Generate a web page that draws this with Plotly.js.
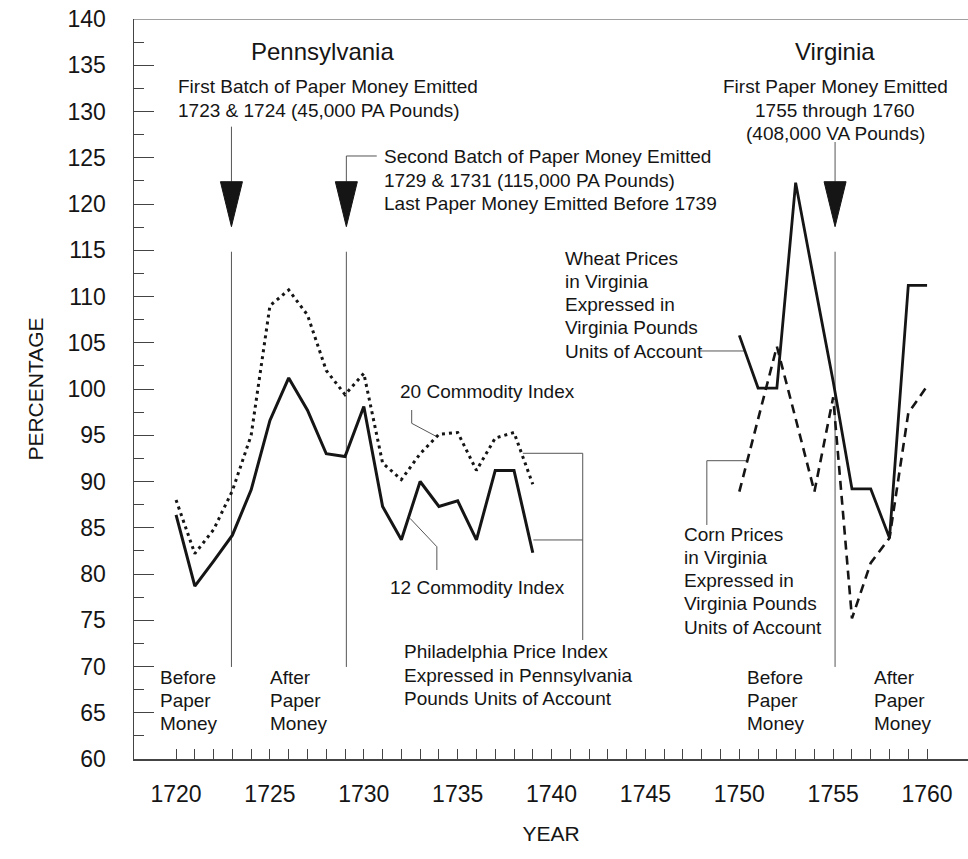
<!DOCTYPE html>
<html>
<head>
<meta charset="utf-8">
<script src="https://cdn.plot.ly/plotly-3.0.1.min.js"></script>
<style>
  html, body { margin: 0; padding: 0; background: #fff; }
  #chart { width: 968px; height: 859px; }
</style>
</head>
<body>
<div id="chart"></div>
<script>
// ---------------- DATA ----------------
const yearsPA = [1720,1721,1722,1723,1724,1725,1726,1727,1728,1729,1730,1731,1732,1733,1734,1735,1736,1737,1738,1739];
const index12 = [86.4,78.7,81.4,84.2,89.1,96.6,101.2,97.7,93.0,92.7,98.1,87.3,83.7,90.0,87.3,87.9,83.7,91.2,91.2,82.3];
const index20 = [88.0,82.2,84.8,89.0,95.0,109.0,110.7,108.0,102.0,99.4,101.7,92.0,90.2,93.0,95.1,95.3,91.2,94.7,95.3,89.7];

const yearsVA = [1750,1751,1752,1753,1754,1755,1756,1757,1758,1759,1760];
const wheatVA = [105.8,100.1,100.1,122.3,111.5,100.8,89.2,89.2,83.9,111.2,111.2];
const cornVA  = [88.9,96.7,104.6,96.8,88.9,99.1,75.2,81.2,83.9,97.4,100.3];

const xTickVals = [1720,1725,1730,1735,1740,1745,1750,1755,1760];
const xTickText = ['1720','1725','1730','1735','1740','1745','1750','1755','1760'];
const yTickVals = [60,65,70,75,80,85,90,95,100,105,110,115,120,125,130,135,140];
const yTickText = yTickVals.map(String);

const emissionYears = [1722.95, 1729.07, 1755.1];   // arrow / divider positions

// texts
const txtPenn = 'Pennsylvania';
const txtVirg = 'Virginia';
const txtFirstBatch = ['First Batch of Paper Money Emitted', '1723 & 1724 (45,000 PA Pounds)'];
const txtSecondBatch = ['Second Batch of Paper Money Emitted', '1729 & 1731 (115,000 PA Pounds)', 'Last Paper Money Emitted Before 1739'];
const txtVAFirst = ['First Paper Money Emitted', '1755 through 1760', '(408,000 VA Pounds)'];
const txtWheat = ['Wheat Prices', 'in Virginia', 'Expressed in', 'Virginia Pounds', 'Units of Account'];
const txtCorn = ['Corn Prices', 'in Virginia', 'Expressed in', 'Virginia Pounds', 'Units of Account'];
const txtBefore = ['Before', 'Paper', 'Money'];
const txtAfter = ['After', 'Paper', 'Money'];
const txtPhila = ['Philadelphia Price Index', 'Expressed in Pennsylvania', 'Pounds Units of Account'];
const txt20 = '20 Commodity Index';
const txt12 = '12 Commodity Index';

// ---------------- STYLE ----------------
const FONT = 'Liberation Sans, Arial, Helvetica, sans-serif';
const INK = '#151515';
const STEP = 2.52;  // line spacing in y units

function block(lines, x, y0, anchor, size) {
  return lines.map((t, i) => ({
    text: t, x: x, y: y0 - i * STEP, xref: 'x', yref: 'y',
    xanchor: anchor || 'left', yanchor: 'middle', showarrow: false,
    font: {family: FONT, size: size || 19, color: INK}
  }));
}

const annotations = [].concat(
  block([txtPenn], 1727.78, 136.5, 'center', 24),
  block([txtVirg], 1755.1, 136.5, 'center', 24),
  block(txtFirstBatch, 1720.0, 132.65, 'left'),
  block(txtSecondBatch, 1730.96, 125.1, 'left'),
  block(txtVAFirst, 1755.1, 132.65, 'center'),
  block(txtWheat, 1740.6, 114.16, 'left'),
  block(txtCorn, 1746.93, 84.32, 'left'),
  block(txtBefore, 1719.04, 68.86, 'left'),
  block(txtAfter, 1724.9, 68.86, 'left'),
  block(txtBefore, 1750.31, 68.86, 'left'),
  block(txtAfter, 1757.07, 68.86, 'left'),
  block(txtPhila, 1732.04, 71.57, 'left'),
  block([txt20], 1731.82, 99.68, 'left'),
  block([txt12], 1731.29, 78.59, 'left')
);

// shapes
const shapes = [];
const thin = {color: '#555', width: 1};
function seg(x0, y0, x1, y1) {
  shapes.push({type: 'line', xref: 'x', yref: 'y', x0: x0, y0: y0, x1: x1, y1: y1, line: thin, layer: 'below'});
}
function tri(x) {
  const hw = 0.586;
  shapes.push({type: 'path', xref: 'x', yref: 'y',
    path: `M ${x - hw},122.41 L ${x + hw},122.41 L ${x},117.55 Z`,
    fillcolor: INK, line: {color: INK, width: 1}});
}
// top frame line
shapes.push({type: 'line', xref: 'paper', yref: 'y', x0: 0, x1: 1, y0: 140, y1: 140, line: {color: '#444', width: 1}});
// arrows and dividers
seg(emissionYears[0], 128.36, emissionYears[0], 122.41);
tri(emissionYears[0]);
seg(emissionYears[0], 114.84, emissionYears[0], 69.95);

seg(emissionYears[1], 125.19, emissionYears[1], 122.41);
seg(emissionYears[1], 125.19, 1730.69, 125.19);
tri(emissionYears[1]);
seg(emissionYears[1], 114.84, emissionYears[1], 69.95);

seg(emissionYears[2], 126.7, emissionYears[2], 122.41);
tri(emissionYears[2]);
seg(emissionYears[2], 114.84, emissionYears[2], 69.95);

// leader lines
seg(1747.91, 104.11, 1750.25, 104.11);                 // wheat
seg(1748.27, 85.3, 1748.27, 92.25);                    // corn vertical
seg(1748.27, 92.25, 1750.47, 92.25);                   // corn horizontal
seg(1732.55, 97.73, 1732.55, 96.29);                   // 20 index
seg(1732.55, 96.29, 1733.89, 94.84);
seg(1732.46, 86.02, 1733.89, 82.95);                   // 12 index
seg(1733.89, 82.95, 1733.89, 80.43);
seg(1738.47, 93.05, 1741.66, 93.05);                   // Philadelphia bracket
seg(1741.66, 93.05, 1741.66, 72.86);
seg(1739.03, 83.68, 1741.66, 83.68);

// minor ticks positions
const xMinor = [];
for (let yv = xTickVals[0]; yv <= xTickVals[xTickVals.length - 1]; yv++) xMinor.push(yv);
const yMinor = [];
for (let i = 0; i < yTickVals.length - 1; i++) yMinor.push((yTickVals[i] + yTickVals[i + 1]) / 2);

// ---------------- TRACES ----------------
const traces = [
  {x: yearsPA, y: index20, mode: 'lines', name: '20 Commodity Index',
   line: {color: INK, width: 3, dash: '3px,4px'}},
  {x: yearsPA, y: index12, mode: 'lines', name: '12 Commodity Index',
   line: {color: INK, width: 3}},
  {x: yearsVA, y: cornVA, mode: 'lines', name: 'Corn Prices in Virginia',
   line: {color: INK, width: 2.6, dash: '9px,6px'}},
  {x: yearsVA, y: wheatVA, mode: 'lines', name: 'Wheat Prices in Virginia',
   line: {color: INK, width: 2.8}}
];

const layout = {
  width: 968, height: 859,
  margin: {l: 134, r: 0, t: 19, b: 100},
  paper_bgcolor: '#fff', plot_bgcolor: '#fff',
  showlegend: false,
  font: {family: FONT, color: INK},
  xaxis: {
    range: [1717.76, 1762.18], showgrid: false, zeroline: false,
    showline: true, linecolor: '#444', linewidth: 1.5,
    tickmode: 'array', tickvals: xTickVals, ticktext: xTickText,
    ticks: 'inside', ticklen: 10, tickwidth: 1, tickcolor: '#444',
    ticklabelstandoff: 14,
    tickfont: {family: FONT, size: 23, color: INK},
    minor: {tickmode: 'array', tickvals: xMinor, ticks: 'inside', ticklen: 10, tickwidth: 1, tickcolor: '#444'},
    title: {text: 'YEAR', font: {family: FONT, size: 21, color: INK}, standoff: 20}
  },
  yaxis: {
    range: [60, 140], showgrid: false, zeroline: false,
    showline: true, linecolor: '#444', linewidth: 1.5,
    tickmode: 'array', tickvals: yTickVals, ticktext: yTickText,
    ticks: 'inside', ticklen: 20, tickwidth: 1, tickcolor: '#444',
    ticklabelstandoff: 22,
    tickfont: {family: FONT, size: 23, color: INK},
    minor: {tickmode: 'array', tickvals: yMinor, ticks: 'inside', ticklen: 10, tickwidth: 1, tickcolor: '#444'},
    title: {text: 'PERCENTAGE', font: {family: FONT, size: 21, color: INK}, standoff: 18}
  },
  annotations: annotations,
  shapes: shapes
};

Plotly.newPlot('chart', traces, layout, {displayModeBar: false, staticPlot: true});
</script>
</body>
</html>
